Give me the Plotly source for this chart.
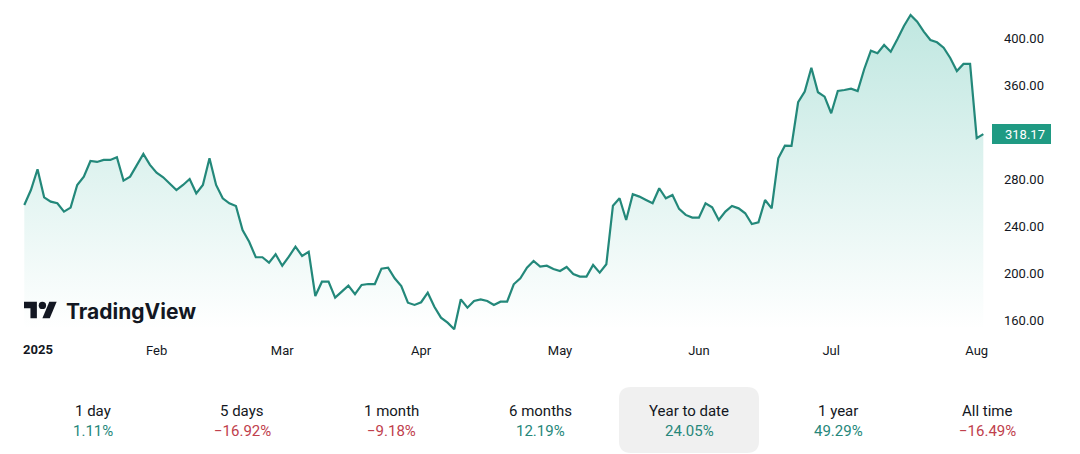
import pandas as pd
import plotly.graph_objects as go

# ---------------- data ----------------
holidays = ["2025-01-01", "2025-01-09", "2025-01-20", "2025-02-17",
            "2025-04-18", "2025-05-26", "2025-06-19", "2025-07-04"]
dates = pd.bdate_range("2025-01-02", "2025-08-04", freq="C", holidays=holidays)

prices = [
    257.9, 270.6, 288.3, 264.4, 260.7, 259.3, 252.2, 255.6, 274.9, 282.0,
    295.3, 294.5, 296.2, 296.2, 298.5, 278.6, 282.0, 291.1, 301.3, 292.0,
    285.4, 281.4, 276.3, 270.6, 274.9, 280.0, 267.8, 274.9, 297.6, 274.9,
    263.6, 259.3, 257.0, 236.6, 226.6, 213.4, 213.4, 208.8, 215.9, 206.2,
    213.9, 222.4, 214.5, 218.1, 180.4, 192.6, 192.6, 179.0, 184.1, 189.2,
    181.9, 189.8, 190.6, 190.6, 203.7, 204.5, 195.5, 188.9, 174.7, 172.8,
    175.1, 183.2, 171.3, 162.0, 157.7, 152.1, 177.6, 170.5, 176.2, 177.6,
    176.2, 172.8, 175.6, 175.6, 190.4, 195.5, 204.5, 210.2, 205.4, 206.2,
    203.4, 201.7, 205.1, 199.1, 196.9, 196.9, 206.8, 200.3, 207.4, 257.3,
    263.6, 245.1, 267.0, 265.0, 262.1, 259.3, 272.1, 263.6, 266.4, 254.5,
    249.4, 247.1, 247.1, 259.3, 255.9, 245.1, 252.2, 257.0, 255.0, 250.8,
    241.7, 243.1, 262.1, 255.0, 297.6, 308.3, 308.1, 345.3, 354.3, 374.7,
    353.8, 350.0, 335.9, 354.9, 355.7, 356.9, 354.9, 373.6, 389.2, 387.0,
    394.0, 388.3, 398.9, 410.2, 419.6, 413.9, 405.4, 398.3, 396.3, 391.7,
    383.0, 371.9, 377.9, 377.9, 314.7, 318.17,
]

y_ticks = [160, 200, 240, 280, 360, 400]
year_label = "2025"

periods = ["1 day", "5 days", "1 month", "6 months", "Year to date", "1 year", "All time"]
changes = [1.11, -16.92, -9.18, 12.19, 24.05, 49.29, -16.49]
selected_period = "Year to date"

# ---------------- styling ----------------
W, H = 1080, 454
LINE = "#23887a"
TEAL = "#1f9a83"
GREEN = "#26877a"
RED = "#c0404c"
TXT = "#131722"
FONT = "Roboto"

PLOT_RIGHT = 990      # px
PLOT_BOTTOM = 335     # px
X_RANGE = [-3.674, 146.01]
Y_RANGE = [147.23, 432.3]


def pxx(x):
    return x / W


def pxy(y):
    return (H - y) / H


idx = list(range(len(prices)))
month_ticks = []
month_text = []
for i in range(1, len(dates)):
    if dates[i].month != dates[i - 1].month:
        month_ticks.append(i)
        month_text.append(dates[i].strftime("%b"))

fig = go.Figure()
fig.add_trace(go.Scatter(
    x=idx, y=prices, mode="lines",
    line=dict(color=LINE, width=2.2),
    fill="tozeroy",
    fillgradient=dict(
        type="vertical",
        start=Y_RANGE[0] + 5, stop=Y_RANGE[1],
        colorscale=[[0, "rgba(34,171,148,0)"], [1, "rgba(34,171,148,0.30)"]],
    ),
    hoverinfo="skip",
))

shapes = []
annotations = []

# last value label
last = prices[-1]
ppu = (PLOT_BOTTOM) / (Y_RANGE[1] - Y_RANGE[0])
half = 10 / ppu
shapes.append(dict(type="rect", xref="paper", yref="y",
                   x0=992 / W, x1=1051 / W, y0=last - half, y1=last + half,
                   fillcolor=TEAL, line=dict(width=0), layer="above"))
annotations.append(dict(text=f"{last:.2f}", xref="paper", yref="y",
                        x=1003 / W, y=last, xanchor="left", yanchor="middle",
                        showarrow=False, font=dict(family=FONT, size=13, color="white")))

# year label
annotations.append(dict(text=f"<b>{year_label}</b>", xref="x", yref="paper",
                        x=0, y=pxy(349), xanchor="left", yanchor="middle", xshift=-3,
                        showarrow=False, font=dict(family=FONT, size=13, color=TXT)))

# TradingView logo (built from a 36x28 viewbox)
def lp(u, v):
    return pxx(24 + 0.92 * u), pxy(301.7 + 0.92 * (v - 4))


def poly(pts):
    s = ""
    for k, (u, v) in enumerate(pts):
        X, Y = lp(u, v)
        s += ("M" if k == 0 else "L") + f"{X:.5f},{Y:.5f} "
    return s + "Z"


shapes.append(dict(type="path", xref="paper", yref="paper", layer="above",
                   path=poly([(0, 4), (14, 4), (14, 22), (7, 22), (7, 11), (0, 11)]),
                   fillcolor=TXT, line=dict(width=0)))
shapes.append(dict(type="path", xref="paper", yref="paper", layer="above",
                   path=poly([(20, 22), (27.5, 4), (35.5, 4), (28, 22)]),
                   fillcolor=TXT, line=dict(width=0)))
cx0, cy0 = lp(16, 4)
cx1, cy1 = lp(24, 12)
shapes.append(dict(type="circle", xref="paper", yref="paper", layer="above",
                   x0=cx0, x1=cx1, y0=cy1, y1=cy0, fillcolor=TXT, line=dict(width=0)))
annotations.append(dict(text="<b>TradingView</b>", xref="paper", yref="paper",
                        x=pxx(64), y=pxy(311), xanchor="left", yanchor="middle",
                        showarrow=False, font=dict(family="Inter", size=21, color=TXT)))

# period stats
col0, step = 93, 149
for k, (p, c) in enumerate(zip(periods, changes)):
    cx = col0 + step * k
    if p == selected_period:
        x0, x1, y0, y1, r = cx - 70, cx + 70, 387, 453, 12
        path = (f"M{pxx(x0 + r)},{pxy(y0)} L{pxx(x1 - r)},{pxy(y0)} "
                f"Q{pxx(x1)},{pxy(y0)} {pxx(x1)},{pxy(y0 + r)} "
                f"L{pxx(x1)},{pxy(y1 - r)} Q{pxx(x1)},{pxy(y1)} {pxx(x1 - r)},{pxy(y1)} "
                f"L{pxx(x0 + r)},{pxy(y1)} Q{pxx(x0)},{pxy(y1)} {pxx(x0)},{pxy(y1 - r)} "
                f"L{pxx(x0)},{pxy(y0 + r)} Q{pxx(x0)},{pxy(y0)} {pxx(x0 + r)},{pxy(y0)} Z")
        shapes.append(dict(type="path", xref="paper", yref="paper", layer="below",
                           path=path, fillcolor="#f0f0f0", line=dict(width=0)))
    annotations.append(dict(text=p, xref="paper", yref="paper", x=pxx(cx), y=pxy(411),
                            xanchor="center", yanchor="middle", showarrow=False,
                            font=dict(family=FONT, size=15, color=TXT)))
    sign = "\u2212" if c < 0 else ""
    annotations.append(dict(text=f"{sign}{abs(c):.2f}%", xref="paper", yref="paper",
                            x=pxx(cx), y=pxy(431), xanchor="center", yanchor="middle",
                            showarrow=False,
                            font=dict(family=FONT, size=15, color=GREEN if c >= 0 else RED)))

fig.update_layout(
    width=W, height=H,
    margin=dict(l=0, r=0, t=0, b=0),
    paper_bgcolor="white", plot_bgcolor="white",
    showlegend=False,
    shapes=shapes, annotations=annotations,
    xaxis=dict(domain=[0, PLOT_RIGHT / W], range=X_RANGE, showgrid=False, zeroline=False,
               showline=False, tickvals=month_ticks, ticktext=month_text, ticks="",
               ticklabelstandoff=6, automargin=False,
               tickfont=dict(family=FONT, size=13, color=TXT), fixedrange=True),
    yaxis=dict(domain=[(H - PLOT_BOTTOM) / H, 1], range=Y_RANGE, side="right",
               showgrid=False, zeroline=False, showline=False, tickvals=y_ticks,
               ticktext=[f"{v:.2f}" for v in y_ticks], ticks="", ticklabelstandoff=13,
               automargin=False, tickfont=dict(family=FONT, size=13, color=TXT),
               fixedrange=True),
)

fig.write_html("out.html")
